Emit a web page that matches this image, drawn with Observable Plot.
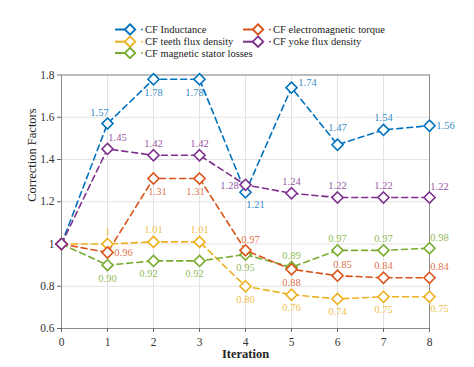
<!DOCTYPE html>
<html><head><meta charset="utf-8">
<script src="https://cdn.jsdelivr.net/npm/d3@7"></script>
<script src="https://cdn.jsdelivr.net/npm/@observablehq/plot@0.6"></script>
<style>
body{margin:0;background:#fff;font-family:"Liberation Serif",serif}
#legend{display:block;width:474px;height:62px}
#chart svg{display:block}
#chart svg, #chart svg text, #legend text{font-family:"Liberation Serif",serif !important}
</style></head>
<body>
<svg id="legend" width="474" height="62"></svg>
<div id="chart"></div>
<script>
const iterations = [0,1,2,3,4,5,6,7,8];
const seriesNames = ["CF Inductance","CF teeth flux density","CF magnetic stator losses","CF electromagnetic torque","CF yoke flux density"];
const seriesColors = ["#0072BD","#EDB120","#77AC30","#D95319","#7E2F8E"];
const cfInductance = [1,1.57,1.78,1.78,1.245,1.74,1.47,1.54,1.56];
const cfTeeth = [1,1,1.01,1.01,0.80,0.76,0.74,0.75,0.75];
const cfStator = [1,0.90,0.92,0.92,0.95,0.89,0.97,0.97,0.98];
const cfTorque = [1,0.96,1.31,1.31,0.97,0.88,0.85,0.84,0.84];
const cfYoke = [1,1.45,1.42,1.42,1.28,1.24,1.22,1.22,1.22];
const labelsInductance = ["","1.57","1.78","1.78","1.21","1.74","1.47","1.54","1.56"];
const labelsTeeth = ["","1","1.01","1.01","0.80","0.76","0.74","0.75","0.75"];
const labelsStator = ["","0.90","0.92","0.92","0.95","0.89","0.97","0.97","0.98"];
const labelsTorque = ["","0.96","1.31","1.31","0.97","0.88","0.85","0.84","0.84"];
const labelsYoke = ["","1.45","1.42","1.42","1.28","1.24","1.22","1.22","1.22"];
const placeInductance = [null,"nw","s","sw","se","ene","nn","n","e"];
const placeTeeth = [null,"n","n","n","s","s","s","s","se"];
const placeStator = [null,"s","sw","sw","s","n","n","n","ne"];
const placeTorque = [null,"e","sse","ssw","nne","s","nne","n","ne"];
const placeYoke = [null,"ne","n","n","w","n","n","n","ne"];
const yTicks = [0.6,0.8,1,1.2,1.4,1.6,1.8];
const yTickLabels = ["0.6","0.8","1","1.2","1.4","1.6","1.8"];

// label offsets (style)
const offsets = {n:[0,-12], nn:[0,-17], s:[0,13], nw:[-8,-11], ne:[10,-11], sw:[-5,13], se:[10,12],
  e:[16,0], w:[-16,1], ene:[16,-5], nne:[5,-11], sse:[4,13], ssw:[-4,13]};

const series = [
  {name: seriesNames[0], color: seriesColors[0], values: cfInductance, labels: labelsInductance, place: placeInductance},
  {name: seriesNames[1], color: seriesColors[1], values: cfTeeth, labels: labelsTeeth, place: placeTeeth},
  {name: seriesNames[2], color: seriesColors[2], values: cfStator, labels: labelsStator, place: placeStator},
  {name: seriesNames[3], color: seriesColors[3], values: cfTorque, labels: labelsTorque, place: placeTorque},
  {name: seriesNames[4], color: seriesColors[4], values: cfYoke, labels: labelsYoke, place: placeYoke}
];
const rows = [];
series.forEach(s => s.values.forEach((v, i) => rows.push({x: iterations[i], y: v, name: s.name, color: s.color, label: s.labels[i], place: s.place[i]})));

const textMarks = Object.entries(offsets).map(([code, [dx, dy]]) =>
  Plot.text(rows.filter(r => r.place === code), {x: "x", y: "y", text: "label", fill: "color", fillOpacity: 0.85, dx, dy, fontSize: 10.5}));

const chart = Plot.plot({
  width: 474, height: 305,
  marginTop: 12.5, marginBottom: 39, marginLeft: 61, marginRight: 45,
  style: {fontFamily: "'Liberation Serif', serif", fontSize: "11.5px", color: "#333", background: "#fff"},
  x: {domain: [0, 8]},
  y: {domain: [0.6, 1.8]},
  color: {type: "identity"},
  marks: [
    Plot.gridX(iterations, {stroke: "#e3e3e3", strokeOpacity: 1}),
    Plot.gridY(yTicks, {stroke: "#e3e3e3", strokeOpacity: 1}),
    Plot.frame({stroke: "#8a8a8a"}),
    Plot.axisY({ticks: yTicks, tickFormat: d => yTickLabels[yTicks.indexOf(d)], tickSize: 4, tickPadding: 3, label: null, stroke: "#666"}),
    Plot.axisX({ticks: iterations, tickFormat: d => String(d), tickSize: 4, tickPadding: 5, label: null, stroke: "#666"}),
    Plot.line(rows, {x: "x", y: "y", z: "name", stroke: "color", strokeWidth: 1.6, strokeDasharray: "6,4"}),
    Plot.dot(rows, {x: "x", y: "y", stroke: "color", fill: "white", symbol: "diamond2", r: 5, strokeWidth: 1.6}),
    ...textMarks,
    Plot.text(["Correction Factors"], {frameAnchor: "left", rotate: -90, dx: -30, fontSize: 12.5, fill: "#222"}),
    Plot.text(["Iteration"], {frameAnchor: "bottom", dy: 29, fontSize: 12.5, fontWeight: "bold", fill: "#222"})
  ]
});
document.getElementById("chart").appendChild(chart);

// legend
const legendPos = [[115, 29.5], [115, 41.7], [115, 53], [243, 29.5], [243, 41.7]];
const lg = d3.select("#legend");
series.forEach((s, k) => {
  const [x0, y0] = legendPos[k];
  const g = lg.append("g").attr("transform", `translate(${x0},${y0})`);
  g.append("line").attr("x1", 0).attr("x2", 10).attr("y1", 0).attr("y2", 0).attr("stroke", s.color).attr("stroke-width", 2);
  g.append("path").attr("d", d3.symbol(d3.symbolDiamond2, 70)()).attr("transform", "translate(15,0)")
    .attr("fill", "white").attr("stroke", s.color).attr("stroke-width", 1.8);
  g.append("circle").attr("cx", 27).attr("cy", 0).attr("r", 0.9).attr("fill", s.color);
  g.append("text").attr("x", 30).attr("y", 0).attr("dy", "0.35em").attr("font-size", 10.5)
    .attr("font-family", "'Liberation Serif', serif").attr("fill", "#222").text(s.name);
});
</script>
</body></html>
